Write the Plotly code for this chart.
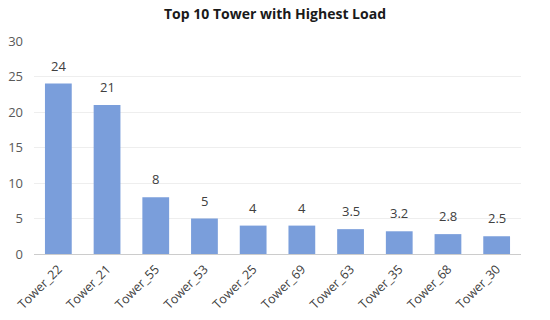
import plotly.graph_objects as go

towers = ["Tower_22", "Tower_21", "Tower_55", "Tower_53", "Tower_25",
          "Tower_69", "Tower_63", "Tower_35", "Tower_68", "Tower_30"]
loads = [24, 21, 8, 5, 4, 4, 3.5, 3.2, 2.8, 2.5]
y_ticks = [0, 5, 10, 15, 20, 25, 30]

fig = go.Figure(go.Bar(
    x=towers, y=loads,
    marker=dict(color="#7A9EDB", line=dict(width=0)),
    width=0.55, hoverinfo="x+y",
))
for t, v in zip(towers, loads):
    fig.add_annotation(x=t, y=v, text=f"{v:g}", showarrow=False, yanchor="bottom",
                       yshift=7, font=dict(size=13, color="#404040"))
fig.update_layout(
    width=550, height=320,
    margin=dict(l=34, r=29, t=41, b=66),
    paper_bgcolor="white", plot_bgcolor="white",
    font=dict(family="Open Sans", color="#595959", size=12),
    title=dict(text="<b>Top 10 Tower with Highest Load</b>", x=0.5, xanchor="center",
               y=0.955, yanchor="middle",
               font=dict(size=14, color="#1a1a1a")),
    showlegend=False,
)
fig.update_yaxes(range=[0, 30], tickvals=y_ticks, showgrid=True, gridcolor="#eeeeee",
                 zeroline=False, showline=False, tickfont=dict(size=13, color="#595959"),
                 ticks="", ticklabelstandoff=10, automargin=False)
fig.update_xaxes(tickangle=-45, showline=True, linecolor="#cccccc", linewidth=1,
                 tickfont=dict(size=12.5, color="#404040"), ticks="", automargin=False,
                 ticklabelstandoff=2)
fig.write_html("out.html", config={"displayModeBar": False},
               post_script="document.body.style.margin='0';")
